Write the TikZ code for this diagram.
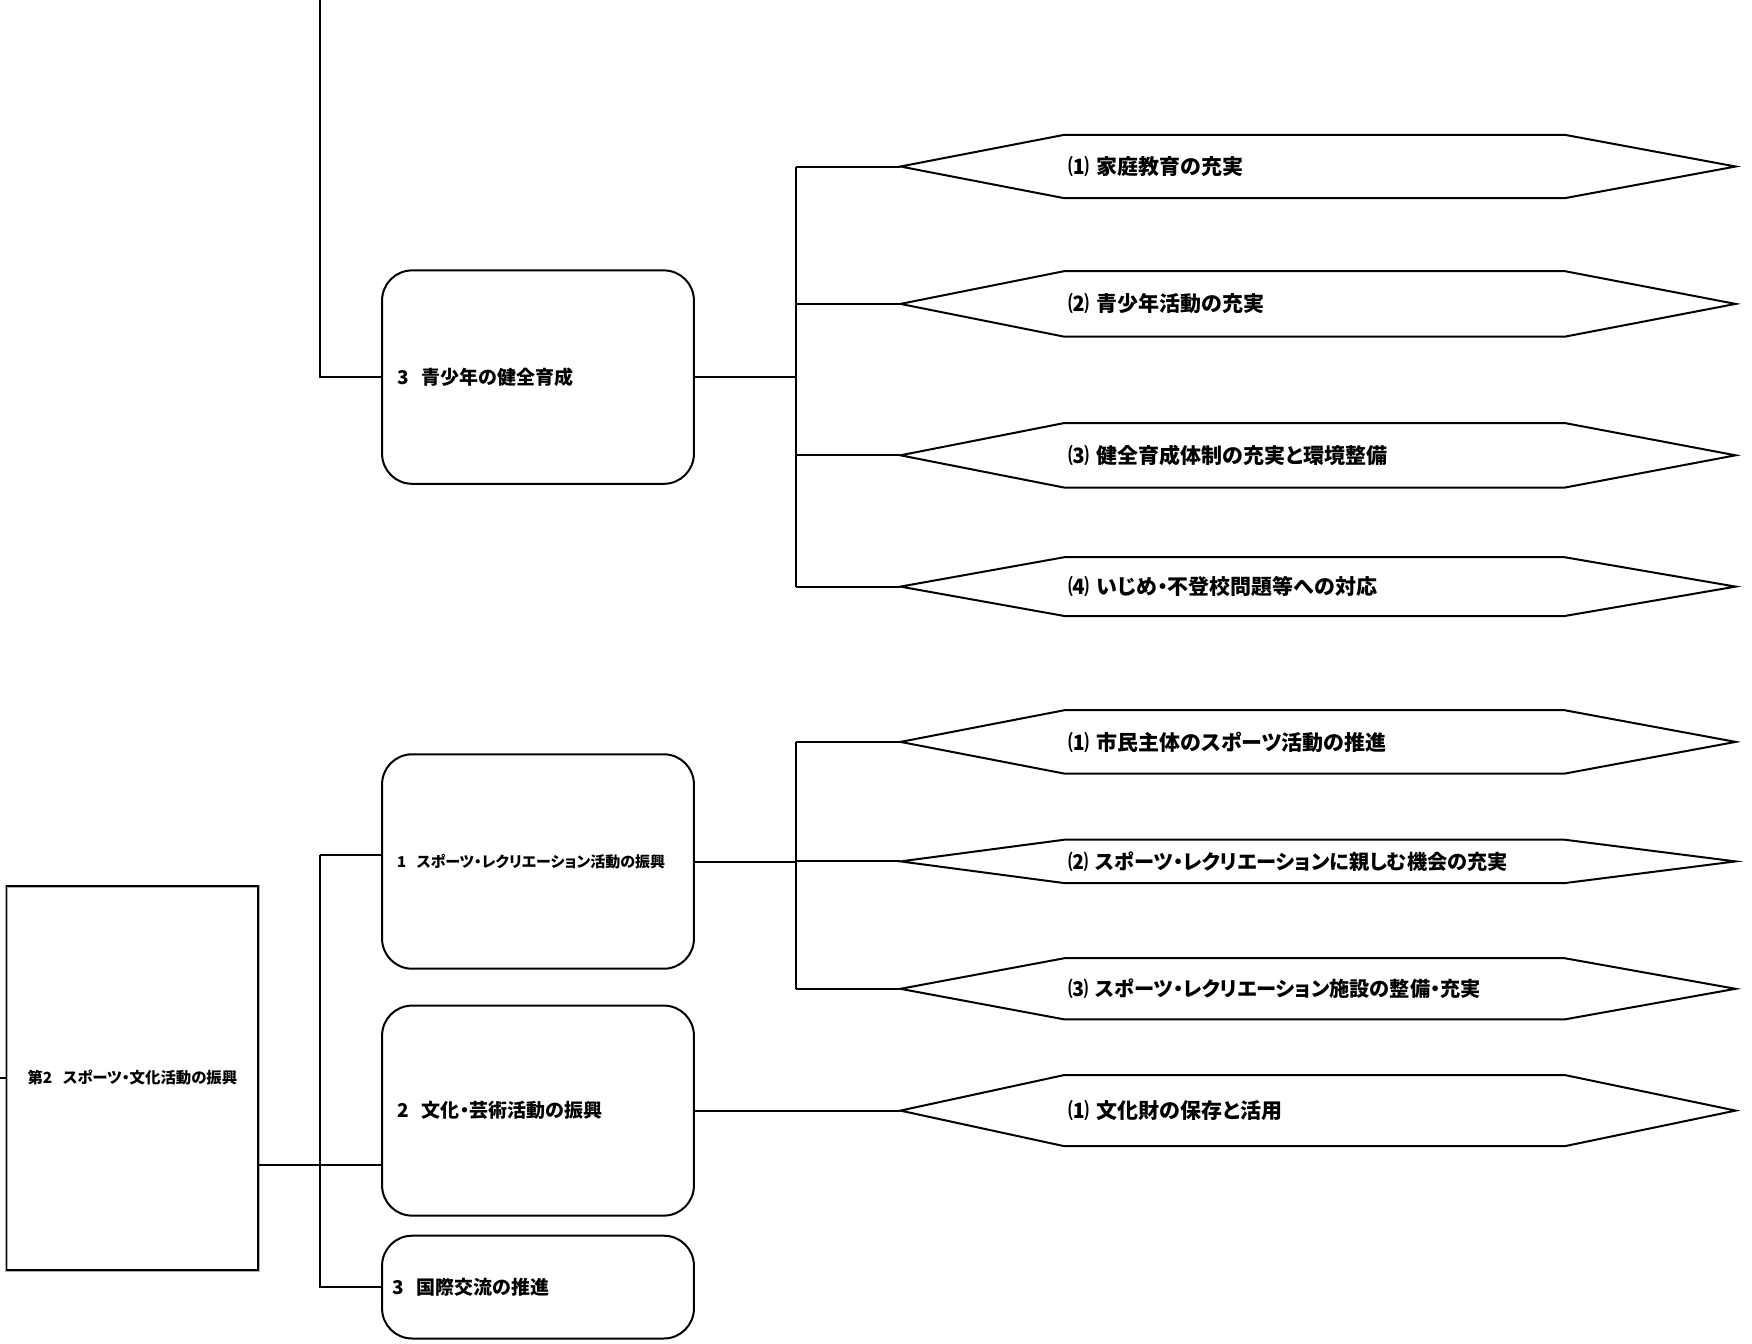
\documentclass[tikz,border=0pt]{standalone}
\usepackage{fontspec}
\IfFontExistsTF{Noto Sans CJK JP Black}
  {\setmainfont{Noto Sans CJK JP}[BoldFont={Noto Sans CJK JP Black},RawFeature=+palt]}
  {\setmainfont{Noto Sans CJK JP}[BoldFont={Noto Sans CJK JP Bold},RawFeature=+palt]}
\usepackage{tikz}
\usetikzlibrary{calc}
\newcommand{\gap}{\hspace{0.7em}}
\tikzset{theme/.style={rectangle,draw=gray!60,double=black,double distance=0.7pt,line width=0.4pt,minimum width=125.7pt,minimum height=192pt,align=center,font=\bfseries\fontsize{7.7}{9}\selectfont},
         topic/.style={rectangle,draw,line width=1pt,rounded corners=15pt,minimum width=155.9pt,text width=140.9pt,inner xsep=7.5pt,align=left,font=\bfseries\fontsize{9.5}{11}\selectfont},
         measure/.style={rectangle,minimum width=249.7pt,text width=245.7pt,inner xsep=2pt,inner ysep=1pt,align=left,font=\bfseries\fontsize{10.5}{12}\selectfont},
         link/.style={line width=1pt}}
\begin{document}
\begin{tikzpicture}[x=0.5pt,y=-0.5pt]
    \useasboundingbox (0,0) rectangle (1752,1344);
    % Themes and topics
    \node (sec) at (132.4,1078) [theme]{第2\gap スポーツ・文化活動の振興};
    \node (sA3) at (538,377.1) [topic,minimum height=106.7pt]{3\gap 青少年の健全育成};
    \node (sB1) at (538,861.5) [topic,minimum height=107.2pt,font=\bfseries\fontsize{7.5}{8}\selectfont]{1\gap スポーツ・レクリエーション活動の振興};
    \node (sB2) at (538,1110.6) [topic,minimum height=105pt]{2\gap 文化・芸術活動の振興};
    \node (sB3) at (538,1287.1) [topic,minimum height=51.4pt,inner xsep=5pt,text width=145.9pt]{3\gap 国際交流の推進};
    % Measures
    \node (a1) at (1314.5,166.5) [measure,minimum height=31.3pt]{⑴ 家庭教育の充実};
    \node (a2) at (1314.5,303.9) [measure,minimum height=32.4pt]{⑵ 青少年活動の充実};
    \node (a3) at (1314.5,455.3) [measure,minimum height=31.9pt]{⑶ 健全育成体制の充実と環境整備};
    \node (a4) at (1314.5,586.6) [measure,minimum height=29pt]{⑷ いじめ・不登校問題等への対応};
    \node (b1) at (1314.5,741.9) [measure,minimum height=31.3pt]{⑴ 市民主体のスポーツ活動の推進};
    \node (b2) at (1314.5,861.4) [measure,minimum height=21.3pt,font=\bfseries\fontsize{10.1}{12}\selectfont]{⑵ スポーツ・レクリエーションに親しむ機会の充実};
    \node (b3) at (1314.5,988.8) [measure,minimum height=30.2pt,font=\bfseries\fontsize{10.1}{12}\selectfont]{⑶ スポーツ・レクリエーション施設の整備・充実};
    \node (c1) at (1314.5,1110.6) [measure,minimum height=35.2pt]{⑴ 文化財の保存と活用};
    \foreach \n in {a1,a2,a3,a4,b1,b2,b3,c1}
        \draw[link] ($(\n.west)+(-164,0)$) coordinate (\n-w) -- (\n.north west) -- (\n.north east) -- ($(\n.east)+(171,0)$) -- (\n.south east) -- (\n.south west) -- cycle;
    % Upper branch
    \coordinate (top) at (319.5,0);
    \coordinate (jA) at (795.5,377.1);
    \draw[link] (top) |- (sA3.west);
    \draw[link] (sA3.east) -- (jA);
    \draw[link] (jA |- a1-w) -- (jA |- a4-w);
    \foreach \n in {a1,a2,a3,a4}
        \draw[link] (jA |- \n-w) -- (\n-w);
    % Lower branch
    \coordinate (stub) at (0,1078);
    \coordinate (kB) at (319.5,854.7);
    \coordinate (jB) at (319.5,1165.3);
    \coordinate (jC) at (795.5,861.5);
    \draw[link] (stub) -- (sec.west);
    \draw[link] (sec.east |- jB) -- (sB2.west |- jB);
    \draw[link] (kB) -- (sB1.west |- kB);
    \draw[link] (kB) -- (jB |- sB3.west) -- (sB3.west);
    \draw[link] (sB1.east) -- (jC);
    \draw[link] (jC |- b1-w) -- (jC |- b3-w);
    \foreach \n in {b1,b2,b3}
        \draw[link] (jC |- \n-w) -- (\n-w);
    \draw[link] (sB2.east) -- (c1-w);
  \end{tikzpicture}
\end{document}
